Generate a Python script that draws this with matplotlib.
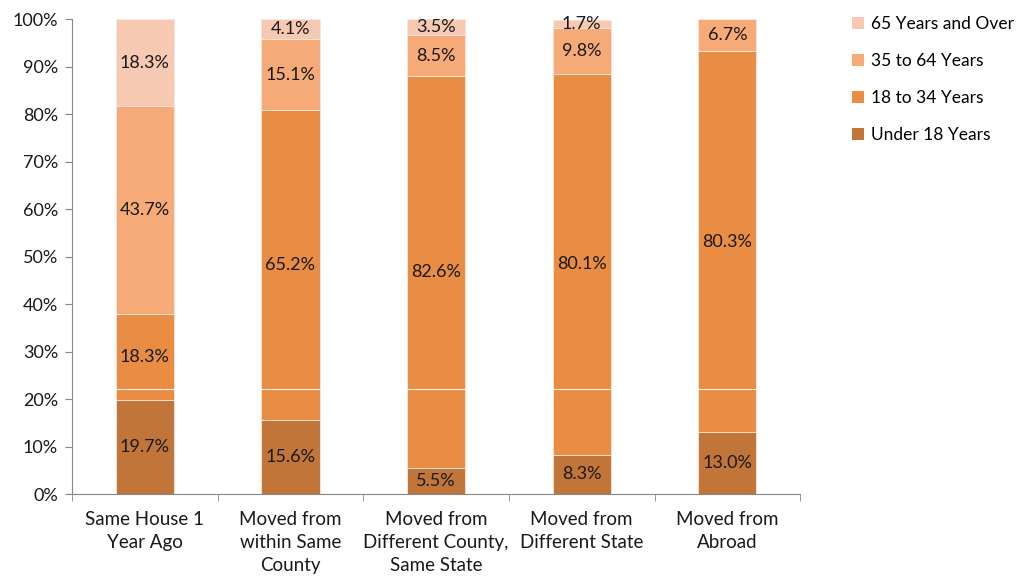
import matplotlib.pyplot as plt
import numpy as np
from matplotlib.patches import Patch
from matplotlib.ticker import FixedLocator, PercentFormatter

plt.rcParams['font.family'] = ['Lato', 'DejaVu Sans']

categories = ['Same House 1\nYear Ago', 'Moved from\nwithin Same\nCounty',
              'Moved from\nDifferent County,\nSame State', 'Moved from\nDifferent State',
              'Moved from\nAbroad']
groups = ['Under 18 Years', '18 to 34 Years', '35 to 64 Years', '65 Years and Over']
under18 = [19.7, 15.6, 5.5, 8.3, 13.0]
age18_34 = [18.3, 65.2, 82.6, 80.1, 80.3]
age35_64 = [43.7, 15.1, 8.5, 9.8, 6.7]
over65 = [18.3, 4.1, 3.5, 1.7, 0.0]
colors = ['#C27538', '#E88D43', '#F6AA78', '#F8C9B2']

fig = plt.figure(figsize=(10.17, 5.79), dpi=100)
ax = fig.add_axes([0.0708, 0.1468, 0.716, 0.82])

x = np.arange(len(categories))
bottom = np.zeros(len(categories))
for vals, col in zip([under18, age18_34, age35_64, over65], colors):
    vals = np.array(vals)
    ax.bar(x, vals, 0.4, bottom=bottom, color=col, edgecolor='#F5E6DC', linewidth=0.6)
    for xi, b, v in zip(x, bottom, vals):
        if v > 0:
            ax.text(xi, b + v / 2, f'{v:.1f}%', ha='center', va='center',
                    fontsize=13, color='#1a1a1a')
    bottom += vals

# thin white rule across the bars
ax.axhline(22.2, color='white', linewidth=0.8, alpha=0.9)

ax.set_xlim(-0.5, len(categories) - 0.5)
ax.set_ylim(0, 100)
ax.yaxis.set_major_locator(FixedLocator(np.arange(0, 101, 10)))
ax.yaxis.set_major_formatter(PercentFormatter(decimals=0))
ax.set_xticks(x)
ax.set_xticklabels(categories, fontsize=13.5, color='#1a1a1a', linespacing=1.45)
ax.xaxis.set_minor_locator(FixedLocator(np.arange(-0.5, len(categories), 1)))
ax.tick_params(axis='x', which='major', length=0, pad=12)
ax.tick_params(axis='x', which='minor', length=5, color='#868686')
ax.tick_params(axis='y', length=5, color='#868686', labelsize=13, labelcolor='#1a1a1a', pad=5)
for s in ['top', 'right']:
    ax.spines[s].set_visible(False)
for s in ['left', 'bottom']:
    ax.spines[s].set_color('#868686')

handles = [Patch(facecolor=c) for c in colors[::-1]]
fig.legend(handles, groups[::-1], loc='upper left', bbox_to_anchor=(0.826, 0.993),
           frameon=False, fontsize=12.5, labelspacing=1.2, handlelength=0.7,
           handleheight=0.7, handletextpad=0.4, borderaxespad=0.3)

fig.savefig('out.png', dpi=100)
